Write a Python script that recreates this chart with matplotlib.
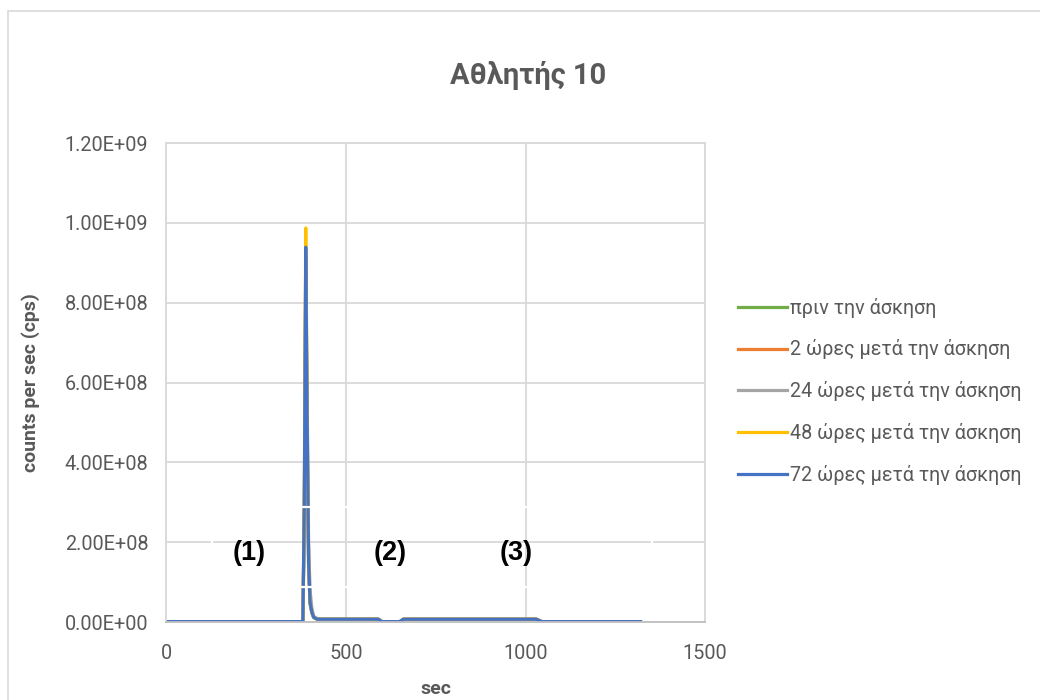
import matplotlib.pyplot as plt
from matplotlib.patches import Rectangle
from matplotlib.ticker import FuncFormatter

plt.rcParams['font.family'] = ['Roboto', 'DejaVu Sans']

# time axis (sec) and counts per sec for each session
t = [0, 380, 384, 388, 392, 396, 400, 405, 410, 420, 590, 600, 650, 660, 1030, 1045, 1320]
pre = [1e6, 1e6, 2.5e8, 8.5e8, 4.5e8, 1.3e8, 4.5e7, 2.2e7, 1.1e7, 7e6, 7e6, 1e6, 1e6, 7e6, 7e6, 1e6, 1e6]
h2 = [1e6, 1e6, 2.8e8, 9.0e8, 4.8e8, 1.4e8, 4.8e7, 2.4e7, 1.2e7, 7e6, 7e6, 1e6, 1e6, 7e6, 7e6, 1e6, 1e6]
h24 = [1e6, 1e6, 2.9e8, 9.2e8, 5.6e8, 2.0e8, 8e7, 3.5e7, 1.5e7, 8e6, 7e6, 1e6, 1e6, 7e6, 7e6, 1e6, 1e6]
h48 = [1e6, 1e6, 3.2e8, 9.87e8, 5.2e8, 1.5e8, 5e7, 2.5e7, 1.2e7, 7e6, 7e6, 1e6, 1e6, 7e6, 7e6, 1e6, 1e6]
h72 = [1e6, 1e6, 3.0e8, 9.39e8, 5.0e8, 1.5e8, 5e7, 2.5e7, 1.2e7, 7e6, 7e6, 1e6, 1e6, 7e6, 7e6, 1e6, 1e6]

labels = ['πριν την άσκηση', '2 ώρες μετά την άσκηση', '24 ώρες μετά την άσκηση',
          '48 ώρες μετά την άσκηση', '72 ώρες μετά την άσκηση']
colors = ['#70AD47', '#ED7D31', '#A5A5A5', '#FFC000', '#4472C4']

phase_names = ['(1)', '(2)', '(3)']
phase_x = [230, 623, 975]

grey = '#595959'
grid = '#D9D9D9'

fig = plt.figure(figsize=(10.4, 7), dpi=100)
fig.patches.append(Rectangle((8 / 1040, -0.1), 1.2, 1.1 - 11 / 700, transform=fig.transFigure,
                             fill=False, edgecolor=grid, linewidth=1.2))
ax = fig.add_axes([0.160, 0.1114, 0.518, 0.6843])

for ys, lab, c in zip([pre, h2, h24, h48, h72], labels, colors):
    ax.plot(t, ys, color=c, linewidth=2.3, label=lab, solid_joinstyle='round')

ax.set_xlim(0, 1500)
ax.set_ylim(0, 1.2e9)
ax.set_xticks([0, 500, 1000, 1500])
ax.set_yticks([i * 2e8 for i in range(7)])
ax.yaxis.set_major_formatter(FuncFormatter(lambda v, p: f'{v:.2E}'))
ax.grid(True, color=grid, linewidth=1.3)
ax.set_axisbelow(True)
for s in ax.spines.values():
    s.set_color(grid)
    s.set_linewidth(1.3)
ax.spines['bottom'].set_color('#BFBFBF')
ax.tick_params(length=0, labelsize=14.3, colors=grey)
ax.tick_params(axis='y', pad=13)
ax.tick_params(axis='x', pad=16)

ax.set_xlabel('sec', fontsize=14, fontweight='bold', color=grey, labelpad=12)
ax.set_ylabel('counts per sec (cps)', fontsize=14, fontweight='bold', color=grey, labelpad=18)
fig.text(0.508, 0.892, 'Αθλητής 10', ha='center', va='center', fontsize=21,
         fontweight='bold', color=grey)

# phase markers with a white-outlined frame
ax.add_patch(Rectangle((127, 0.88e8), 1226, 2.0e8, fill=False, edgecolor='white',
                       linewidth=1.6, zorder=5))
for name, x in zip(phase_names, phase_x):
    ax.text(x, 1.73e8, name, ha='center', va='center', fontsize=19.5, fontweight='bold',
            family='Liberation Sans', color='black', zorder=6)

leg = ax.legend(loc='center left', bbox_to_anchor=(1.028, 0.482), frameon=False,
                fontsize=14.2, handlelength=2.5, handletextpad=0.15, labelspacing=1.1,
                labelcolor=grey)

fig.savefig('out.png', dpi=100)
